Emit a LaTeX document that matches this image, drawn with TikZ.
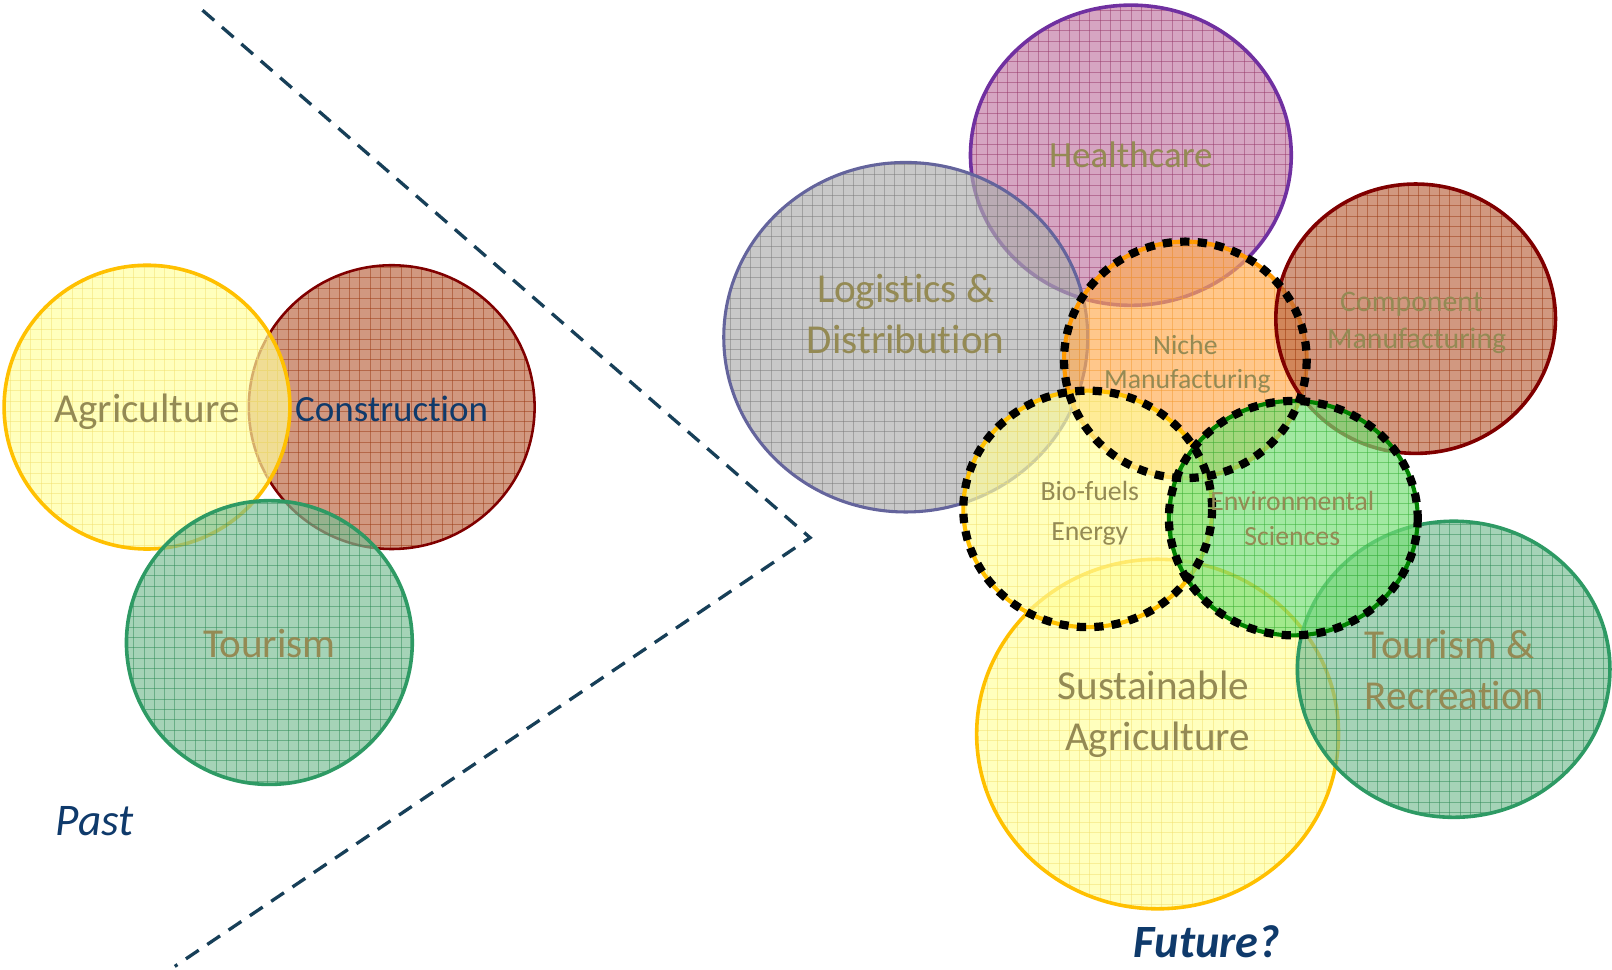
\documentclass[tikz,border=0pt]{standalone}
\usepackage{fontspec}
\setmainfont{Carlito}[Ligatures=NoCommon]
\definecolor{olivetext}{HTML}{948A54}
\definecolor{navytext}{HTML}{0F3A6B}
\definecolor{divcol}{HTML}{173F58}
\definecolor{yelfill}{HTML}{FFFF9E}
\definecolor{yelgrid}{HTML}{F2E070}
\definecolor{yelline}{HTML}{FFC000}
\definecolor{brnfill}{HTML}{BC6844}
\definecolor{brngrid}{HTML}{9A3A14}
\definecolor{brnline}{HTML}{800000}
\definecolor{grnfill}{HTML}{7BBF96}
\definecolor{grngrid}{HTML}{2E8A56}
\definecolor{grnline}{HTML}{2E9A64}
\definecolor{pnkfill}{HTML}{C47BA6}
\definecolor{pnkgrid}{HTML}{98386A}
\definecolor{pnkline}{HTML}{7030A0}
\definecolor{gryfill}{HTML}{AEAEAE}
\definecolor{grygrid}{HTML}{7A7A7A}
\definecolor{gryline}{HTML}{64649C}
\definecolor{orafill}{HTML}{FFAD55}
\definecolor{oragrid}{HTML}{F59A30}
\definecolor{oraline}{HTML}{FF9900}
\definecolor{lgrfill}{HTML}{76E076}
\definecolor{lgrgrid}{HTML}{38B038}
\definecolor{lgrline}{HTML}{008000}
\tikzset{
  lbl/.style={text=olivetext, anchor=base, inner sep=0pt},
  big/.style={font=\fontsize{40}{48}\selectfont},
  mid/.style={font=\fontsize{36}{43}\selectfont},
  small/.style={font=\fontsize{29}{35}\selectfont},
  smaller/.style={font=\fontsize{27}{33}\selectfont},
  divider/.style={draw=divcol, line width=3.2, dash pattern=on 15 off 10},
  dotring/.style={draw=black, line width=8, dash pattern=on 9 off 8},
}
% #1 x, #2 y, #3 rx, #4 ry, #5 fill, #6 grid colour, #7 border colour, #8 border width
\newcommand\zone[8]{%
  \fill[fill=#5, fill opacity=0.68] (#1,#2) ellipse [x radius=#3, y radius=#4];
  \begin{scope}
    \clip (#1,#2) ellipse [x radius=#3, y radius=#4];
    \foreach \g in {0,10,...,1570} {\draw[#6, line width=0.7, opacity=0.5] (\g,0) -- (\g,943);}
    \foreach \g in {0,10,...,940} {\draw[#6, line width=0.7, opacity=0.5] (0,\g) -- (1568,\g);}
  \end{scope}
  \draw[#7, line width=#8] (#1,#2) ellipse [x radius=#3, y radius=#4];
}
\begin{document}
\begin{tikzpicture}[x=1pt, y=-1pt]
\useasboundingbox (0,0) rectangle (1568,943);
\fill[white] (0,0) rectangle (1568,943);
% ---------- Past ----------
\zone{381}{396}{139}{138}{brnfill}{brngrid}{brnline}{2.5}
\zone{143}{396}{139}{138}{yelfill}{yelgrid}{yelline}{3.5}
\zone{262}{625}{139}{138}{grnfill}{grngrid}{grnline}{3.5}
% ---------- divider ----------
\coordinate (dtop) at (197,10);
\coordinate (dtip) at (788,523);
\coordinate (dbot) at (170,940);
\draw[divider] (dtop) -- (dtip) -- (dbot);
% ---------- Future ----------
\zone{1100}{151}{156}{146}{pnkfill}{pnkgrid}{pnkline}{3.5}
\zone{881}{328}{177}{170}{gryfill}{grygrid}{gryline}{3}
\zone{1153}{350}{118}{115}{orafill}{oragrid}{oraline}{4}
\zone{1377}{310}{136}{131}{brnfill}{brngrid}{brnline}{3.5}
\zone{1126}{714}{176}{170}{yelfill}{yelgrid}{yelline}{3.5}
\zone{1414}{651}{152}{144}{grnfill}{grngrid}{grnline}{3.5}
\zone{1058}{495}{121}{115}{yelfill}{yelgrid}{yelline}{4}
\zone{1258}{504}{121}{114}{lgrfill}{lgrgrid}{lgrline}{4}
\draw[dotring] (1153,350) ellipse [x radius=118, y radius=115];
\draw[dotring] (1058,495) ellipse [x radius=121, y radius=115];
\draw[dotring] (1258,504) ellipse [x radius=121, y radius=114];
% ---------- labels ----------
\node[lbl, big] (agri) at (143,411) {Agriculture};
\node[lbl, mid, text=navytext] (cons) at (381,410) {Construction};
\node[lbl, big] (tour) at (262,640) {Tourism};
\node[lbl, text=navytext, font=\fontsize{44}{52}\selectfont\itshape] (past) at (92,813) {Past};
\node[lbl, mid] (hc) at (1100,163) {Healthcare};
\node[lbl, big] (log1) at (881,294) {Logistics \&};
\node[lbl, big] (log2) at (881,344) {Distribution};
\node[lbl, small] (comp1) at (1373,303) {Component};
\node[lbl, small] (comp2) at (1378,339) {Manufacturing};
\node[lbl, smaller] (nic1) at (1153,345) {Niche};
\node[lbl, smaller] (nic2) at (1155,378) {Manufacturing};
\node[lbl, smaller] (bio1) at (1060,487) {Bio-fuels};
\node[lbl, smaller] (bio2) at (1060,526) {Energy};
\node[lbl, smaller] (env1) at (1257,497) {Environmental};
\node[lbl, smaller] (env2) at (1257,531) {Sciences};
\node[lbl, big] (sus1) at (1122,680) {Sustainable};
\node[lbl, big] (sus2) at (1126,730) {Agriculture};
\node[lbl, big] (tr1) at (1410,641) {Tourism \&};
\node[lbl, big] (tr2) at (1415,690) {Recreation};
\node[lbl, text=navytext, font=\fontsize{45}{54}\selectfont\bfseries\itshape] (fut) at (1174,931) {Future?};
\end{tikzpicture}
\end{document}
